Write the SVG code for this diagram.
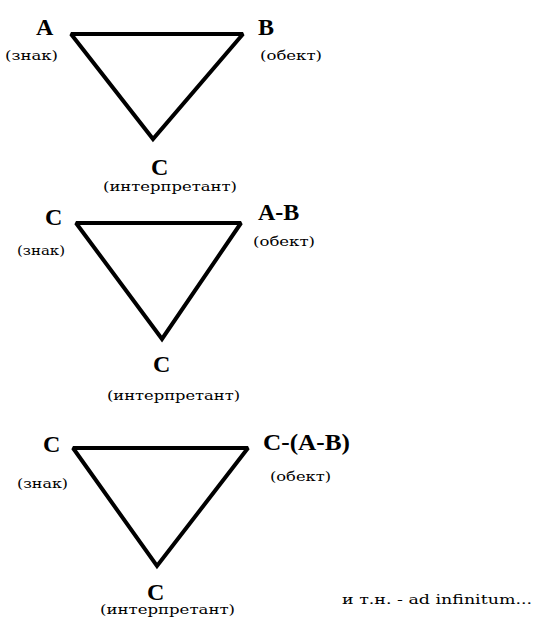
<svg xmlns="http://www.w3.org/2000/svg" width="533" height="619" viewBox="0 0 533 619">
  <style>
    .edge { fill: none; stroke: #000; stroke-width: 4; stroke-linejoin: miter; stroke-miterlimit: 2; }
    .big { font-family: 'Liberation Serif', 'DejaVu Serif', serif; font-weight: 700; font-size: 24px; fill: #000; }
    .small { font-family: 'DejaVu Serif', 'Liberation Serif', serif; font-weight: 400; font-size: 12px; fill: #000; }
  </style>
  <rect width="533" height="619" fill="#fff"/>

  <!-- triangle edges: sign - object - interpretant -->
  <g id="connectors">
    <polygon class="edge" points="71,34 243,34 153,139"/>
    <polygon class="edge" points="76,223 241,223 162,339"/>
    <polygon class="edge" points="73,448 248,448 157,566"/>
  </g>

  <!-- first triangle -->
  <g id="t1-sign">
    <text class="big" x="36" y="35">A</text>
    <text class="small" x="5" y="60" textLength="53" lengthAdjust="spacingAndGlyphs">(знак)</text>
  </g>
  <g id="t1-object">
    <text class="big" x="258" y="35">B</text>
    <text class="small" x="260" y="60" textLength="62" lengthAdjust="spacingAndGlyphs">(обект)</text>
  </g>
  <g id="t1-interpretant">
    <text class="big" x="151" y="175">C</text>
    <text class="small" x="103" y="191" textLength="134" lengthAdjust="spacingAndGlyphs">(интерпретант)</text>
  </g>

  <!-- second triangle -->
  <g id="t2-sign">
    <text class="big" x="45" y="225">C</text>
    <text class="small" x="17" y="255" textLength="48" lengthAdjust="spacingAndGlyphs">(знак)</text>
  </g>
  <g id="t2-object">
    <text class="big" x="258" y="220">A-B</text>
    <text class="small" x="253" y="246" textLength="62" lengthAdjust="spacingAndGlyphs">(обект)</text>
  </g>
  <g id="t2-interpretant">
    <text class="big" x="153" y="372">C</text>
    <text class="small" x="107" y="400" textLength="133" lengthAdjust="spacingAndGlyphs">(интерпретант)</text>
  </g>

  <!-- third triangle -->
  <g id="t3-sign">
    <text class="big" x="43" y="452">C</text>
    <text class="small" x="17" y="488" textLength="51" lengthAdjust="spacingAndGlyphs">(знак)</text>
  </g>
  <g id="t3-object">
    <text class="big" x="263" y="450" textLength="87" lengthAdjust="spacingAndGlyphs">C-(A-B)</text>
    <text class="small" x="270" y="481" textLength="61" lengthAdjust="spacingAndGlyphs">(обект)</text>
  </g>
  <g id="t3-interpretant">
    <text class="big" x="147" y="600">C</text>
    <text class="small" x="100" y="614" textLength="135" lengthAdjust="spacingAndGlyphs">(интерпретант)</text>
  </g>

  <g id="note">
    <text class="small" x="342" y="604" textLength="190" lengthAdjust="spacingAndGlyphs">и т.н. - ad infinitum...</text>
  </g>
</svg>
